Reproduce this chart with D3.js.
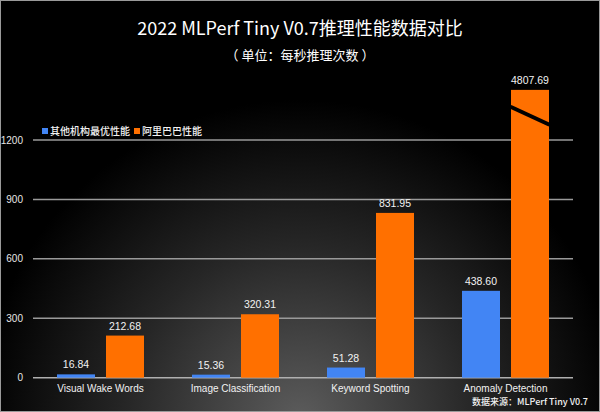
<!DOCTYPE html>
<html>
<head>
<meta charset="utf-8">
<script src="https://cdn.jsdelivr.net/npm/d3@7"></script>
<style>
  html, body { margin: 0; padding: 0; background: #000; }
  svg { display: block; }
  text { font-family: "Noto Sans CJK SC", "Liberation Sans", sans-serif; }
  .num { font-family: "Liberation Sans", Arial, sans-serif; }
</style>
</head>
<body>
<svg id="chart" width="600" height="412"></svg>
<script>
// chart values
const categories = ["Visual Wake Words", "Image Classification", "Keyword Spotting", "Anomaly Detection"];
const seriesNames = ["其他机构最优性能", "阿里巴巴性能"];
const otherBest = [16.84, 15.36, 51.28, 438.60];
const alibaba = [212.68, 320.31, 831.95, 4807.69];
const yTicks = [0, 300, 600, 900, 1200];
// the broken bar is cut at this value, the break mark runs from left to right value
const axisCap = 1453;
const breakValues = [1368, 1277];

const colors = ["#4285f4", "#ff7000"];

const W = 600, H = 412;
const svg = d3.select("#chart");

// background: radial glow from bottom centre
const defs = svg.append("defs");
const grad = defs.append("radialGradient")
    .attr("id", "bg")
    .attr("gradientUnits", "userSpaceOnUse")
    .attr("cx", 300).attr("cy", 420).attr("r", 320);
grad.append("stop").attr("offset", 0).attr("stop-color", "#5c5c5c");
grad.append("stop").attr("offset", 0.55).attr("stop-color", "#262626");
grad.append("stop").attr("offset", 1).attr("stop-color", "#000");

svg.append("rect").attr("width", W).attr("height", H).attr("fill", "url(#bg)");

// scales
const x0 = d3.scaleBand()
    .domain(categories)
    .range([33, 573])
    .paddingInner(0.3556)
    .paddingOuter(0.1778);

const x1 = d3.scaleBand()
    .domain([0, 1])
    .range([0, x0.bandwidth()])
    .paddingInner(0.2245);

const y = d3.scaleLinear()
    .domain([0, 1200])
    .range([377.7, 140]);

// gridlines
svg.append("g")
    .selectAll("line")
    .data(yTicks)
    .join("line")
    .attr("x1", 33).attr("x2", 573)
    .attr("y1", d => y(d)).attr("y2", d => y(d))
    .attr("stroke", d => d === 0 ? "#b0b0b0" : "#9a9a9a")
    .attr("stroke-width", 1.5);

// y axis labels
svg.append("g")
    .selectAll("text")
    .data(yTicks)
    .join("text")
    .attr("class", "num")
    .attr("x", 23)
    .attr("y", d => y(d))
    .attr("dy", "0.35em")
    .attr("text-anchor", "end")
    .attr("font-size", 10)
    .attr("fill", "#e6e6e6")
    .text(d => d);

// bars
const series = [otherBest, alibaba];
const rows = [];
categories.forEach((c, i) => {
    series.forEach((s, k) => rows.push({ cat: c, k: k, value: s[i] }));
});

const barX = d => x0(d.cat) + x1(d.k);
const shown = d => Math.min(d.value, axisCap);

svg.append("g")
    .selectAll("rect")
    .data(rows)
    .join("rect")
    .attr("x", barX)
    .attr("y", d => y(shown(d)))
    .attr("width", x1.bandwidth())
    .attr("height", d => y(0) - y(shown(d)))
    .attr("fill", d => colors[d.k]);

// break mark on the bar that runs past the axis
rows.filter(d => d.value > axisCap).forEach(d => {
    svg.append("line")
        .attr("x1", barX(d) - 0.5)
        .attr("x2", barX(d) + x1.bandwidth() + 0.5)
        .attr("y1", y(breakValues[0]))
        .attr("y2", y(breakValues[1]))
        .attr("stroke", "#000")
        .attr("stroke-width", 4);
});

// value labels
svg.append("g")
    .selectAll("text")
    .data(rows)
    .join("text")
    .attr("class", "num")
    .attr("x", d => barX(d) + x1.bandwidth() / 2)
    .attr("y", d => y(shown(d)) - 6)
    .attr("text-anchor", "middle")
    .attr("font-size", 10.5)
    .attr("fill", "#f2f2f2")
    .text(d => d.value.toFixed(2));

// category labels
svg.append("g")
    .selectAll("text")
    .data(categories)
    .join("text")
    .attr("class", "num")
    .attr("x", d => x0(d) + x0.bandwidth() / 2)
    .attr("y", 392)
    .attr("text-anchor", "middle")
    .attr("font-size", 10)
    .attr("fill", "#f2f2f2")
    .text(d => d);

// title
svg.append("text")
    .attr("x", 300).attr("y", 35)
    .attr("text-anchor", "middle")
    .attr("font-size", 18)
    .attr("fill", "#fff")
    .text("2022 MLPerf Tiny V0.7推理性能数据对比");

svg.append("text")
    .attr("x", 300).attr("y", 60)
    .attr("text-anchor", "middle")
    .attr("font-size", 13)
    .attr("fill", "#fff")
    .text("（ 单位：每秒推理次数 ）");

// legend
const legend = svg.append("g").attr("transform", "translate(42,131)");
let lx = 0;
seriesNames.forEach((name, k) => {
    legend.append("rect")
        .attr("x", lx).attr("y", -3)
        .attr("width", 6).attr("height", 6)
        .attr("fill", colors[k]);
    const t = legend.append("text")
        .attr("x", lx + 8).attr("y", 0)
        .attr("dy", "0.36em")
        .attr("font-size", 10)
        .attr("font-weight", 500)
        .attr("fill", "#f2f2f2")
        .text(name);
    lx += 8 + t.node().getComputedTextLength() + 4;
});

// source note
svg.append("text")
    .attr("x", 588).attr("y", 402)
    .attr("dy", "0.35em")
    .attr("text-anchor", "end")
    .attr("font-size", 9)
    .attr("font-weight", 500)
    .attr("fill", "#f2f2f2")
    .text("数据来源：MLPerf Tiny V0.7");

// thin frame
svg.append("rect")
    .attr("x", 0.5).attr("y", 0.5)
    .attr("width", W - 1).attr("height", H - 1)
    .attr("fill", "none")
    .attr("stroke", "#9a9a9a")
    .attr("stroke-width", 1);
</script>
</body>
</html>
